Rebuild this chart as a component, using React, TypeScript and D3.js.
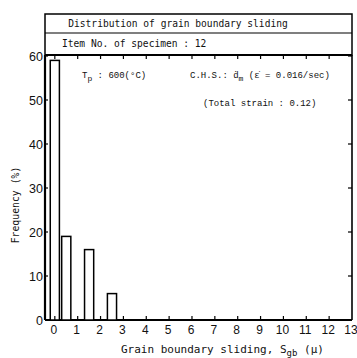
import React from "react";
import * as d3 from "d3";

const sliding = [0, 0.5, 1.5, 2.5];
const frequency = [59, 19, 16, 6];
const xTicks = d3.range(0, 14);
const yTicks = [0, 10, 20, 30, 40, 50, 60];
const title = "Distribution of grain boundary sliding";
const itemLabel = "Item No. of specimen : 12";

const W = 357, H = 358;
const L = 45, R = 352, T = 55, B = 320;
const mono = "'DejaVu Sans Mono', monospace";
const typew = "'Liberation Mono', monospace";

export default function App() {
  const x = d3.scaleLinear().domain([-0.43, 13]).range([L, R]);
  const y = d3.scaleLinear().domain([0, 60]).range([B, T + 1]);
  const bw = x(0.4) - x(0);
  return (
    <svg width={W} height={H} style={{ position: "absolute", left: 0, top: 0, background: "#fff" }}>
      {/* header boxes */}
      <rect x={L} y={14} width={R - L} height={T - 14} fill="none" stroke="#000" strokeWidth={1.5} />
      <line x1={L} x2={R} y1={33} y2={33} stroke="#000" strokeWidth={1.2} />
      <text x={178} y={27} textAnchor="middle" fontFamily={mono} fontSize={9.6} fill="#111">{title}</text>
      <text x={62} y={47} fontFamily={mono} fontSize={9.6} fill="#111">{itemLabel}</text>

      {/* plot frame */}
      <line x1={L} x2={L} y1={T} y2={B} stroke="#000" strokeWidth={2.2} />
      <line x1={R} x2={R} y1={T} y2={B} stroke="#000" strokeWidth={1.6} />
      <line x1={L} x2={R} y1={T} y2={T} stroke="#000" strokeWidth={2} />
      <line x1={L} x2={R} y1={B} y2={B} stroke="#000" strokeWidth={2} />

      {/* bars */}
      {sliding.map((s, i) => (
        <rect key={i} x={x(s) - bw / 2} y={y(frequency[i])} width={bw} height={B - y(frequency[i])}
          fill="#fff" stroke="#000" strokeWidth={1.5} />
      ))}

      {/* x ticks */}
      {xTicks.map((t) => (
        <g key={t}>
          {t < 13 && <line x1={x(t)} x2={x(t)} y1={B} y2={B - 4} stroke="#000" strokeWidth={1.2} />}
          {t < 13 && <line x1={x(t)} x2={x(t)} y1={T} y2={T + 4} stroke="#000" strokeWidth={1.2} />}
          <text x={x(t) - 1} y={B + 14} textAnchor="middle" fontFamily="'Liberation Sans', sans-serif" fontSize={12} fill="#111">{t}</text>
        </g>
      ))}

      {/* y ticks */}
      {yTicks.map((t) => (
        <g key={t}>
          <line x1={L} x2={L + 3} y1={y(t)} y2={y(t)} stroke="#000" strokeWidth={1.2} />
          <line x1={R} x2={R - 4} y1={y(t)} y2={y(t)} stroke="#000" strokeWidth={1.2} />
          <text x={L - 2} y={y(t) + 4.5} textAnchor="end" fontFamily="'Liberation Sans', sans-serif" fontSize={12.5} fill="#111">{t}</text>
        </g>
      ))}

      {/* annotations */}
      <text x={82} y={78} fontFamily={typew} fontSize={9} fill="#111">
        <tspan>T</tspan><tspan dy={3} fontSize={8}>p</tspan><tspan dy={-3}> : 600(°C)</tspan>
      </text>
      <text x={190} y={78} fontFamily={typew} fontSize={9} fill="#111">
        <tspan>C.H.S.: ḋ</tspan><tspan dy={3} fontSize={8}>m</tspan><tspan dy={-3}> (ε̇ = 0.016/sec)</tspan>
      </text>
      <text x={203} y={106} fontFamily={typew} fontSize={9} fill="#111">(Total strain : 0.12)</text>

      {/* axis titles */}
      <text x={121} y={353} fontFamily={mono} fontSize={11} fill="#111">
        <tspan>Grain boundary sliding, S</tspan><tspan dy={3} fontSize={9}>gb</tspan><tspan dy={-3}> (μ)</tspan>
      </text>
      <text transform={`translate(19,205) rotate(-90)`} textAnchor="middle" fontFamily={mono} fontSize={9.8} fill="#111">Frequency (%)</text>
    </svg>
  );
}
